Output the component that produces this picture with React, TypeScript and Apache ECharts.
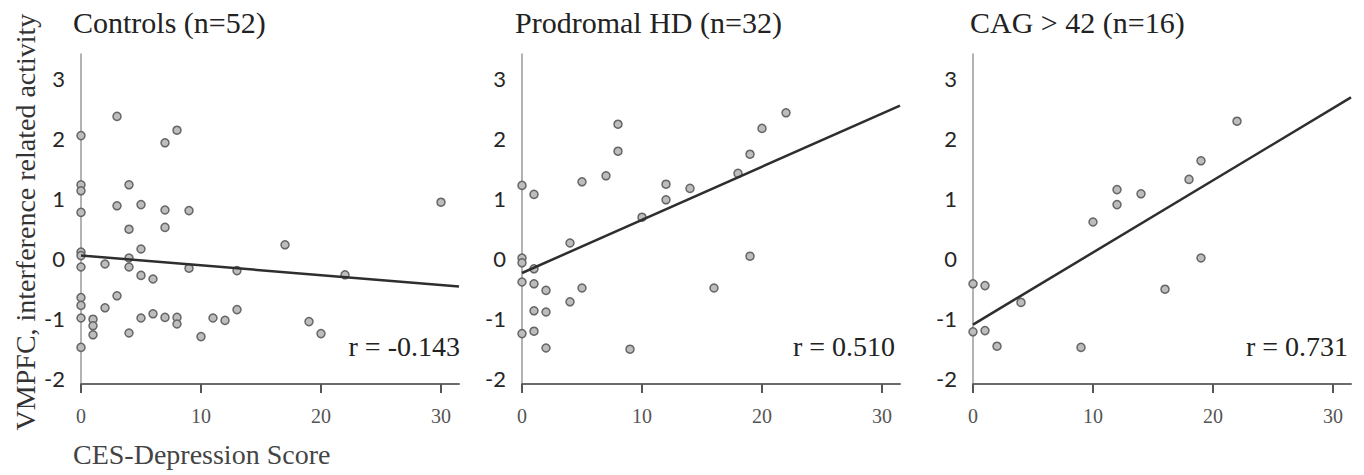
import React, { useEffect, useRef } from "react";
import * as echarts from "echarts";

const panelTitles = ["Controls (n=52)", "Prodromal HD (n=32)", "CAG > 42 (n=16)"];
const rLabels = ["r = -0.143", "r = 0.510", "r = 0.731"];
const yAxisTitle = "VMPFC, interference related activity";
const xAxisTitle = "CES-Depression Score";
const xTicks = [0, 10, 20, 30];
const yTicks = [-2, -1, 0, 1, 2, 3];

const controlsX = [0, 0, 0, 0, 0, 0, 0, 0, 0, 0, 0, 3, 8, 7, 4, 3, 5, 7, 9, 4, 7, 5, 4, 2, 4, 5, 6, 9, 13, 3, 2, 1, 1, 1, 4, 5, 6, 7, 8, 8, 10, 11, 12, 13, 17, 30, 22, 19, 20];
const controlsY = [2.04, 1.22, 1.12, 0.76, 0.1, 0.04, -0.15, -0.66, -0.79, -1.0, -1.49, 2.36, 2.13, 1.92, 1.22, 0.87, 0.89, 0.8, 0.79, 0.48, 0.51, 0.15, 0.0, -0.1, -0.15, -0.29, -0.35, -0.17, -0.21, -0.63, -0.83, -1.02, -1.13, -1.28, -1.25, -1.0, -0.93, -0.99, -0.99, -1.1, -1.31, -1.0, -1.04, -0.86, 0.22, 0.93, -0.28, -1.06, -1.26];

const prodromalX = [8, 8, 7, 5, 0, 1, 12, 12, 14, 10, 4, 0, 0, 1, 0, 1, 2, 5, 16, 4, 1, 2, 0, 1, 2, 9, 22, 20, 19, 18, 19];
const prodromalY = [2.23, 1.78, 1.37, 1.27, 1.21, 1.06, 1.23, 0.97, 1.16, 0.68, 0.25, 0.0, -0.08, -0.18, -0.4, -0.43, -0.54, -0.5, -0.5, -0.73, -0.88, -0.9, -1.26, -1.22, -1.5, -1.52, 2.42, 2.16, 1.73, 1.41, 0.03];

const cagX = [22, 19, 18, 12, 12, 14, 10, 19, 16, 0, 1, 4, 0, 1, 2, 9];
const cagY = [2.28, 1.62, 1.31, 1.14, 0.89, 1.07, 0.6, 0.0, -0.52, -0.43, -0.46, -0.74, -1.23, -1.21, -1.47, -1.49];

const lineIntercepts = [0.04, -0.25, -1.11];
const lineSlopes = [-0.0163, 0.0886, 0.1202];

const X_MAX = 31.5;
const Y_MIN = -2.1;
const Y_MAX = 3.4;

const panelsX = [controlsX, prodromalX, cagX];
const panelsY = [controlsY, prodromalY, cagY];

const gridLefts = [81, 522, 973];
const GRID_W = 378;
const GRID_TOP = 54;
const GRID_H = 330;

export default function App() {
  const ref = useRef<HTMLDivElement>(null);

  useEffect(() => {
    if (!ref.current) return;
    const chart = echarts.init(ref.current, null, { renderer: "svg" });

    const grids = gridLefts.map((l) => ({ left: l, top: GRID_TOP, width: GRID_W, height: GRID_H }));

    const xAxes = gridLefts.map((_, i) => ({
      type: "value",
      gridIndex: i,
      min: 0,
      max: X_MAX,
      interval: 10,
      axisLine: { show: true, onZero: false, lineStyle: { color: "#6a6a6a", width: 2 } },
      axisTick: { show: true, customValues: xTicks, length: 9, lineStyle: { color: "#555", width: 2 } },
      axisLabel: {
        customValues: xTicks,
        margin: 22,
        fontFamily: "Liberation Serif",
        fontSize: 20,
        color: "#555",
      },
      splitLine: { show: false },
    }));

    const yAxes = gridLefts.map((_, i) => ({
      type: "value",
      gridIndex: i,
      min: Y_MIN,
      max: Y_MAX,
      axisLine: { show: true, onZero: false, lineStyle: { color: "#9a9a9a", width: 1.5 } },
      axisTick: { show: false },
      axisLabel: {
        customValues: yTicks,
        margin: 16,
        fontFamily: "Lato",
        fontSize: 22,
        color: "#262626",
      },
      splitLine: { show: false },
    }));

    const series: any[] = [];
    panelsX.forEach((xs, i) => {
      series.push({
        type: "scatter",
        xAxisIndex: i,
        yAxisIndex: i,
        data: xs.map((x, j) => [x, panelsY[i][j]]),
        symbol: "circle",
        symbolSize: 8,
        clip: false,
        itemStyle: { color: "#bdbdbd", borderColor: "#666", borderWidth: 1.5, opacity: 1 },
        z: 2,
      });
      series.push({
        type: "line",
        xAxisIndex: i,
        yAxisIndex: i,
        data: [
          [0, lineIntercepts[i]],
          [X_MAX, lineIntercepts[i] + lineSlopes[i] * X_MAX],
        ],
        symbol: "none",
        lineStyle: { color: "#2e2e2e", width: 2.5 },
        z: 3,
      });
    });

    const titleXs = [73, 515, 970];
    const rRights = [460, 895, 1348];

    const graphic: any[] = [];
    panelTitles.forEach((t, i) => {
      graphic.push({
        type: "text",
        left: titleXs[i],
        top: 7,
        style: { text: t, font: "30px 'Liberation Serif'", fill: "#222" },
      });
      graphic.push({
        type: "text",
        x: rRights[i],
        y: 346,
        style: {
          text: rLabels[i],
          font: "28px 'Liberation Serif'",
          fill: "#222",
          align: "right",
          verticalAlign: "middle",
        },
      });
    });
    graphic.push({
      type: "text",
      x: 25,
      y: 222,
      rotation: Math.PI / 2,
      style: {
        text: yAxisTitle,
        font: "28px 'Liberation Serif'",
        fill: "#333",
        align: "center",
        verticalAlign: "middle",
      },
    });
    graphic.push({
      type: "text",
      left: 73,
      top: 440,
      style: { text: xAxisTitle, font: "28px 'Liberation Serif'", fill: "#444" },
    });

    chart.setOption({
      animation: false,
      backgroundColor: "#fff",
      grid: grids,
      xAxis: xAxes,
      yAxis: yAxes,
      series,
      graphic,
    });

    return () => chart.dispose();
  }, []);

  return (
    <div
      ref={ref}
      style={{ position: "fixed", left: 0, top: 0, width: 1364, height: 475, background: "#fff" }}
    />
  );
}
